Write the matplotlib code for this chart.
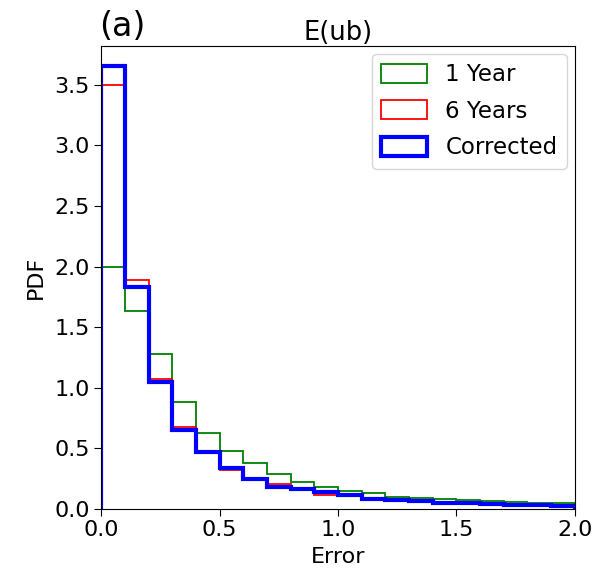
import numpy as np
import matplotlib.pyplot as plt
from matplotlib.patches import Patch

# bin edges, width 0.1 from 0 to 2
edges = np.round(np.arange(0, 2.01, 0.1), 2)

one_year = [2.0, 1.63, 1.28, 0.88, 0.625, 0.48, 0.38, 0.29, 0.226, 0.185,
            0.152, 0.13, 0.10, 0.094, 0.083, 0.075, 0.064, 0.055, 0.05, 0.048]
six_years = [3.5, 1.89, 1.07, 0.68, 0.47, 0.32, 0.25, 0.21, 0.16, 0.12,
             0.118, 0.09, 0.08, 0.07, 0.058, 0.052, 0.043, 0.037, 0.033, 0.031]
corrected = [3.65, 1.83, 1.05, 0.655, 0.467, 0.34, 0.25, 0.185, 0.163, 0.138,
             0.115, 0.085, 0.075, 0.064, 0.052, 0.05, 0.04, 0.034, 0.03, 0.029]

fig = plt.figure(figsize=(5.95, 5.72), dpi=100)
ax = fig.add_axes([0.170, 0.110, 0.796, 0.810])

ax.stairs(one_year, edges, color='green', lw=1.3)
ax.stairs(six_years, edges, color='red', lw=1.3)
ax.stairs(corrected, edges, color='blue', lw=3)

handles = [Patch(facecolor='none', edgecolor='green', lw=1.3, label='1 Year'),
           Patch(facecolor='none', edgecolor='red', lw=1.3, label='6 Years'),
           Patch(facecolor='none', edgecolor='blue', lw=3, label='Corrected')]

ax.set_xlim(0, 2.0)
ax.set_ylim(0, 3.82)
ax.set_xticks([0, 0.5, 1.0, 1.5, 2.0])
ax.set_yticks(np.arange(0, 3.6, 0.5))
ax.tick_params(labelsize=16, length=5, pad=3)
ax.set_xlabel('Error', fontsize=16, labelpad=5)
ax.set_ylabel('PDF', fontsize=16, labelpad=6)
ax.set_title('E(ub)', fontsize=18.5, pad=4)
ax.text(-0.005, 1.005, '(a)', transform=ax.transAxes, fontsize=24, va='bottom', ha='left')
ax.legend(handles=handles, fontsize=16.5, loc='upper right', handlelength=2.0,
          handleheight=0.9, handletextpad=0.8, labelspacing=0.6, borderaxespad=0.35)

plt.savefig('out.png', dpi=100)
